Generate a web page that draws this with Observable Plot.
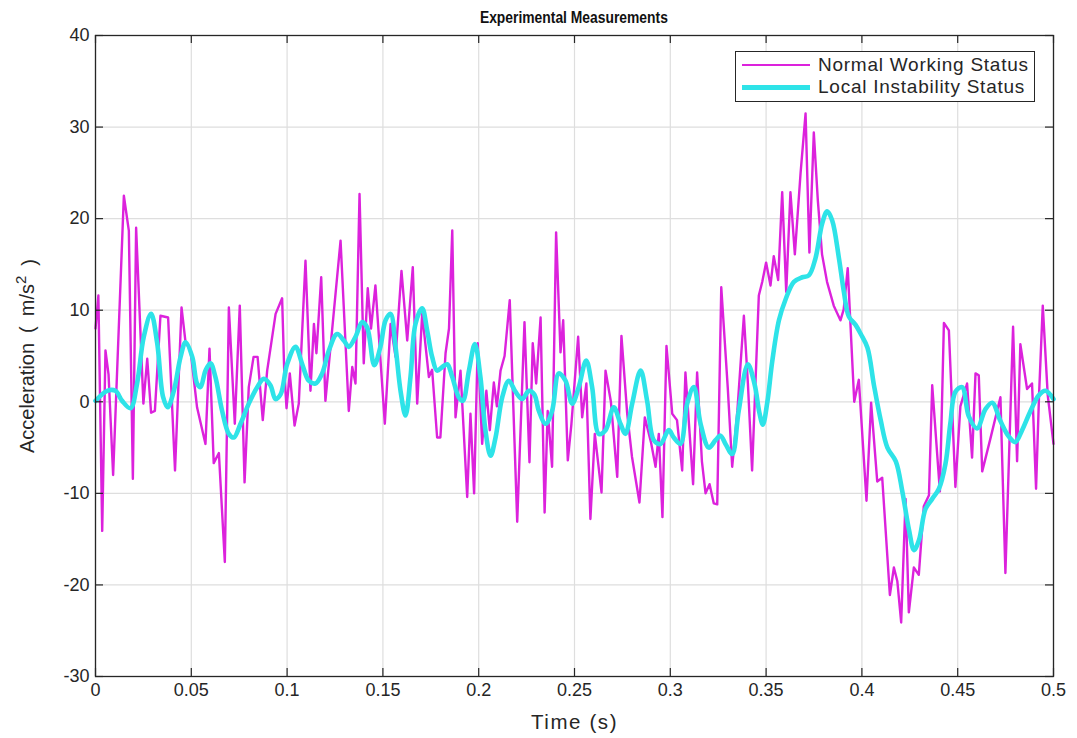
<!DOCTYPE html>
<html>
<head>
<meta charset="utf-8">
<script src="https://cdn.jsdelivr.net/npm/d3@7"></script>
<script src="https://cdn.jsdelivr.net/npm/@observablehq/plot@0.6"></script>
<style>
  body { margin: 0; background: #fff; font-family: "Liberation Sans", Arial, sans-serif; }
  #wrap { position: relative; width: 1077px; height: 738px; overflow: hidden; }
  #title { height: 30px; line-height: 34px; padding-left: 95px; width: 958px; text-align: center;
           font-weight: bold; font-size: 16.5px; color: #111; }
  #title span { display: inline-block; transform: scaleX(0.84); }
  #chart svg { overflow: visible; display: block; }
  #legend { position: absolute; left: 735px; top: 51px; width: 298px; height: 49px;
            border: 1.5px solid #262626; background: #fff; }
  .row { position: absolute; left: 0; height: 20px; }
  .swatch { position: absolute; left: 6px; width: 68px; }
  .lab { position: absolute; left: 82px; font-size: 19px; letter-spacing: 0.75px; color: #262626; white-space: nowrap; line-height: 20px; }
</style>
</head>
<body>
<div id="wrap">
  <div id="title"><span>Experimental Measurements</span></div>
  <div id="chart"></div>
  <div id="legend"></div>
</div>
<script>
// ---- data ----
const seriesNames = ["Normal Working Status", "Local Instability Status"];
const seriesColors = ["#dc22dc", "#2ee3e8"];

const normalT = [0, 0.0015, 0.0035, 0.0052, 0.0068, 0.0092, 0.0148, 0.0174, 0.0195, 0.0212, 0.025, 0.027, 0.029, 0.031, 0.0339, 0.0379, 0.0415, 0.0449, 0.047, 0.0496,
  0.053, 0.0574, 0.0595, 0.0617, 0.0644, 0.0675, 0.0696, 0.0727, 0.0753, 0.0778, 0.080, 0.0825, 0.0846, 0.0873, 0.0896, 0.094, 0.0974, 0.0985, 0.0997, 0.1014,
  0.1039, 0.1061, 0.1096, 0.1122, 0.114, 0.1153, 0.1178, 0.12, 0.1279, 0.1322, 0.134, 0.1357, 0.1378, 0.14, 0.1421, 0.1438, 0.1461, 0.151, 0.154, 0.1566,
  0.1597, 0.1627, 0.1656, 0.1679, 0.1705, 0.174, 0.1757, 0.1783, 0.18, 0.1827, 0.1845, 0.1862, 0.1879, 0.1905, 0.194, 0.1957, 0.1976, 0.1995, 0.2018, 0.204,
  0.2058, 0.2079, 0.2095, 0.2114, 0.2135, 0.2162, 0.2201, 0.2239, 0.2265, 0.2282, 0.23, 0.2323, 0.2344, 0.236, 0.2383, 0.2404, 0.2427, 0.2441, 0.2465, 0.2484,
  0.2519, 0.254, 0.2562, 0.2583, 0.2606, 0.2641, 0.2662, 0.269, 0.2723, 0.2745, 0.2775, 0.28, 0.2839, 0.2867, 0.29, 0.2923, 0.294, 0.2959, 0.298, 0.301,
  0.3035, 0.3062, 0.3079, 0.3119, 0.314, 0.3165, 0.3184, 0.3205, 0.3227, 0.3245, 0.3266, 0.33, 0.3323, 0.335, 0.3384, 0.3405, 0.3427, 0.3462, 0.348, 0.35,
  0.3523, 0.354, 0.3563, 0.3584, 0.3605, 0.3627, 0.365, 0.368, 0.3706, 0.3726, 0.3749, 0.377, 0.3792, 0.3818, 0.3853, 0.3888, 0.3905, 0.3926, 0.396, 0.3984,
  0.4024, 0.4048, 0.408, 0.4106, 0.4146, 0.4167, 0.4185, 0.4205, 0.4228, 0.4245, 0.4271, 0.4297, 0.4323, 0.435, 0.4367, 0.4407, 0.4428, 0.4454, 0.4488, 0.4514,
  0.4549, 0.4575, 0.4593, 0.461, 0.4628, 0.4671, 0.4723, 0.4749, 0.4789, 0.481, 0.4827, 0.4862, 0.4888, 0.4909, 0.4925, 0.4944, 0.497, 0.5];
const normalA = [8, 11.6, -14.1, 5.6, 3.0, -8.0, 22.5, 18.7, -8.4, 19.0, -0.2, 4.7, -1.2, -1.0, 9.4, 9.2, -7.5, 10.3, 6.5, 5.6,
  -0.6, -4.6, 5.8, -6.7, -5.6, -17.5, 10.3, -2.4, 10.5, -8.8, 1.6, 4.9, 4.9, -2.0, 3.4, 9.6, 11.3, 3.4, -0.7, 3.1,
  -2.6, -0.2, 15.4, 1.2, 8.5, 5.3, 13.6, 0.1, 17.6, -1.0, 3.8, 2.0, 22.7, 4.2, 12.4, 8.0, 12.7, -2.4, 8.5, 4.9,
  14.3, 6.7, 14.7, -0.2, 9.6, 2.7, 3.5, -3.9, -3.9, 5.3, 8.0, 18.7, -1.7, 3.4, -10.4, -1.3, -10.0, 6.4, -4.6, 1.2,
  -3.1, 2.1, -0.5, 3.4, 5.0, 11.1, -13.1, 8.7, -6.6, 6.4, 2.0, 9.2, -12.1, -1.0, -7.1, 18.5, 5.4, 8.9, -6.4, -2.4,
  7.1, -1.7, 2.0, -12.8, -3.5, -9.9, 3.4, 0.0, -8.2, 7.2, -1.3, -6.0, -11.0, -1.7, -4.5, -7.1, -3.5, -12.6, 6.1, -1.3,
  -2.0, -7.5, 3.2, -9.0, 3.2, -6.5, -10.0, -9.0, -11.1, -11.2, 12.5, 1.5, -7.1, -1.0, 9.4, 2.0, -7.5, 11.6, 13.1, 15.2,
  12.7, 15.9, 13.3, 22.9, 12.0, 22.9, 16.1, 25.0, 31.5, 16.3, 29.4, 22.0, 16.1, 13.1, 10.5, 8.9, 10.1, 14.6, 0.0, 2.4,
  -10.8, -0.1, -8.7, -8.3, -21.1, -18.1, -19.6, -24.1, -10.6, -23.0, -18.1, -18.9, -11.4, -10.2, 1.8, -9.8, 8.6, 7.8, -9.3, -0.5,
  2.0, -6.1, 3.1, 2.9, -7.6, -4.0, 0.5, -18.7, 8.2, -6.5, 6.3, 1.4, 2.0, -9.5, 1.0, 10.5, 0.7, -4.6];

const instabT = [0, 0.0061, 0.0104, 0.0139, 0.0183, 0.0217, 0.0252, 0.029, 0.0322, 0.0353, 0.0377, 0.0409, 0.0444, 0.047, 0.0505, 0.053, 0.0548, 0.0574, 0.06, 0.0626,
  0.0661, 0.0696, 0.0722, 0.0757, 0.080, 0.0844, 0.0878, 0.0913, 0.0939, 0.0966, 0.1, 0.1044, 0.1079, 0.1113, 0.1148, 0.1183, 0.1218, 0.1261, 0.1296, 0.1322,
  0.1357, 0.1392, 0.1418, 0.1455, 0.1487, 0.1514, 0.154, 0.1566, 0.1592, 0.1618, 0.1644, 0.167, 0.1705, 0.1731, 0.1757, 0.1783, 0.181, 0.1836, 0.1862, 0.1896,
  0.1917, 0.1949, 0.198, 0.2009, 0.2035, 0.2062, 0.2088, 0.2123, 0.2157, 0.2192, 0.2227, 0.2262, 0.229, 0.2314, 0.2349, 0.2383, 0.2418, 0.2453, 0.2488, 0.2522,
  0.2561, 0.2592, 0.2627, 0.2662, 0.2705, 0.274, 0.2766, 0.2801, 0.2845, 0.2879, 0.2914, 0.2949, 0.2992, 0.3018, 0.3053, 0.3088, 0.3123, 0.3158, 0.3201, 0.3236,
  0.3262, 0.3288, 0.3323, 0.3357, 0.3405, 0.3440, 0.3465, 0.3483, 0.3506, 0.3532, 0.3567, 0.3602, 0.3645, 0.3689, 0.3723, 0.3758, 0.3793, 0.3819, 0.3845, 0.388,
  0.3906, 0.3932, 0.3967, 0.3994, 0.4029, 0.4063, 0.4098, 0.4133, 0.4177, 0.4211, 0.4246, 0.4272, 0.4298, 0.4332, 0.4367, 0.4402, 0.4436, 0.4462, 0.4488, 0.4523,
  0.4558, 0.4601, 0.4645, 0.468, 0.4723, 0.4767, 0.4801, 0.4836, 0.488, 0.4923, 0.4958, 0.5];
const instabA = [0.1, 1.2, 1.2, 0.1, -0.7, 2.0, 7.1, 9.6, 6.4, 0.5, -0.6, 1.2, 4.9, 6.5, 4.9, 2.0, 1.6, 3.4, 4.2, 2.7,
  -1.0, -3.5, -3.9, -2.4, -0.2, 1.6, 2.5, 1.8, 0.3, 0.8, 4.1, 6.0, 4.1, 2.3, 2.0, 3.1, 5.6, 7.4, 6.7, 6.0,
  7.1, 8.7, 8.1, 4.0, 6.0, 8.9, 9.6, 6.0, 1.2, -1.5, 2.7, 8.5, 10.2, 7.8, 4.9, 3.4, 3.8, 4.1, 2.7, 0.5,
  0.1, 3.4, 6.3, 2.7, -3.1, -5.9, -3.9, 0.5, 2.3, 1.1, 0.3, 1.2, 0.8, -1.0, -2.4, -1.0, 3.1, 2.3, -0.2, 1.6,
  4.5, 1.6, -3.5, -3.1, -0.6, -2.4, -3.5, -0.2, 3.4, 0.1, -4.2, -4.6, -3.1, -3.9, -4.6, -0.2, 1.6, -2.4, -5.0, -4.2,
  -3.7, -4.6, -5.7, -1.0, 4.1, 1.9, -1.2, -2.5, -0.1, 4.4, 8.9, 11.2, 13.1, 13.6, 13.8, 15.7, 19.5, 20.8, 19.8, 15.7,
  12.0, 9.3, 8.4, 7.4, 5.9, 1.8, -2.0, -5.0, -6.5, -9.8, -14.0, -16.2, -15.1, -11.7, -10.6, -9.5, -6.8, -2.3, 1.1, 1.6,
  -1.6, -2.9, -0.8, -0.1, -2.1, -3.8, -4.4, -3.1, -1.0, 0.7, 1.2, 0.3];

const xTicks = [0, 0.05, 0.1, 0.15, 0.2, 0.25, 0.3, 0.35, 0.4, 0.45, 0.5];
const xTickLabels = ["0", "0.05", "0.1", "0.15", "0.2", "0.25", "0.3", "0.35", "0.4", "0.45", "0.5"];
const yTicks = [-30, -20, -10, 0, 10, 20, 30, 40];
const yTickLabels = ["-30", "-20", "-10", "0", "10", "20", "30", "40"];
const xLabel = "Time (s)";
const yLabelParts = ["Acceleration\u2002(\u2002m/s", "2", "\u2002)"];
const yLabel = yLabelParts.join("");

// ---- build tables ----
const normal = normalT.map((t, i) => ({t, a: normalA[i]}));
const instab = instabT.map((t, i) => ({t, a: instabA[i]}));

const W = 1077, H = 708;
const mL = 95, mR = 24, mT = 5, mB = 62;
const fw = W - mL - mR, fh = H - mT - mB;
const tickLen = 8;
const ink = "#262626";

const chart = Plot.plot({
  width: W, height: H,
  marginLeft: mL, marginRight: mR, marginTop: mT, marginBottom: mB,
  style: {fontFamily: "'Liberation Sans', Arial, sans-serif", fontSize: "18px", color: ink, background: "#fff"},
  x: {domain: [0, 0.5]},
  y: {domain: [-30, 40]},
  marks: [
    Plot.gridX(xTicks, {stroke: "#dedede", strokeOpacity: 1, strokeWidth: 1.2}),
    Plot.gridY(yTicks, {stroke: "#dedede", strokeOpacity: 1, strokeWidth: 1.2}),
    Plot.line(normal, {x: "t", y: "a", stroke: seriesColors[0], strokeWidth: 2.4}),
    Plot.line(instab, {x: "t", y: "a", stroke: seriesColors[1], strokeWidth: 4.6, curve: "catmull-rom"}),
    Plot.frame({stroke: ink, strokeWidth: 1.3}),
    Plot.tickX(xTicks, {x: d => d, insetTop: fh - tickLen, stroke: ink, strokeWidth: 1.2}),
    Plot.tickX(xTicks, {x: d => d, insetBottom: fh - tickLen, stroke: ink, strokeWidth: 1.2}),
    Plot.tickY(yTicks, {y: d => d, insetRight: fw - tickLen, stroke: ink, strokeWidth: 1.2}),
    Plot.tickY(yTicks, {y: d => d, insetLeft: fw - tickLen, stroke: ink, strokeWidth: 1.2}),
    Plot.axisX(xTicks, {tickSize: 0, tickPadding: 7, tickFormat: (d, i) => xTickLabels[i], fontSize: 18,
      label: xLabel, labelAnchor: "center", labelArrow: "none", labelOffset: 52}),
    Plot.axisY(yTicks, {tickSize: 0, tickPadding: 6, tickFormat: (d, i) => yTickLabels[i], fontSize: 18,
      label: yLabel, labelAnchor: "center", labelArrow: "none", labelOffset: 76})
  ]
});
document.getElementById("chart").appendChild(chart);

// axis label styling (bigger type, superscript exponent)
const svg = d3.select(chart);
svg.selectAll("g[aria-label='x-axis label'] text")
  .style("font-size", "20.5px").style("letter-spacing", "1.6px");
svg.selectAll("g[aria-label='y-axis label'] text").each(function () {
  const t = d3.select(this);
  t.style("font-size", "20px");
  t.text(null);
  t.append("tspan").text(yLabelParts[0]);
  t.append("tspan").attr("dy", "-0.5em").style("font-size", "15px").text(yLabelParts[1]);
  t.append("tspan").attr("dy", "0.5em").text(yLabelParts[2]);
});

// ---- legend ----
const legend = document.getElementById("legend");
seriesNames.forEach((name, i) => {
  const row = document.createElement("div");
  row.className = "row";
  row.style.top = (i === 0 ? 3 : 25) + "px";
  row.style.width = "100%";
  const sw = document.createElement("div");
  sw.className = "swatch";
  const thick = i === 0 ? 2.6 : 5;
  sw.style.top = (10 - thick / 2) + "px";
  sw.style.height = thick + "px";
  sw.style.background = seriesColors[i];
  const lab = document.createElement("div");
  lab.className = "lab";
  lab.textContent = name;
  row.appendChild(sw);
  row.appendChild(lab);
  legend.appendChild(row);
});
</script>
</body>
</html>
